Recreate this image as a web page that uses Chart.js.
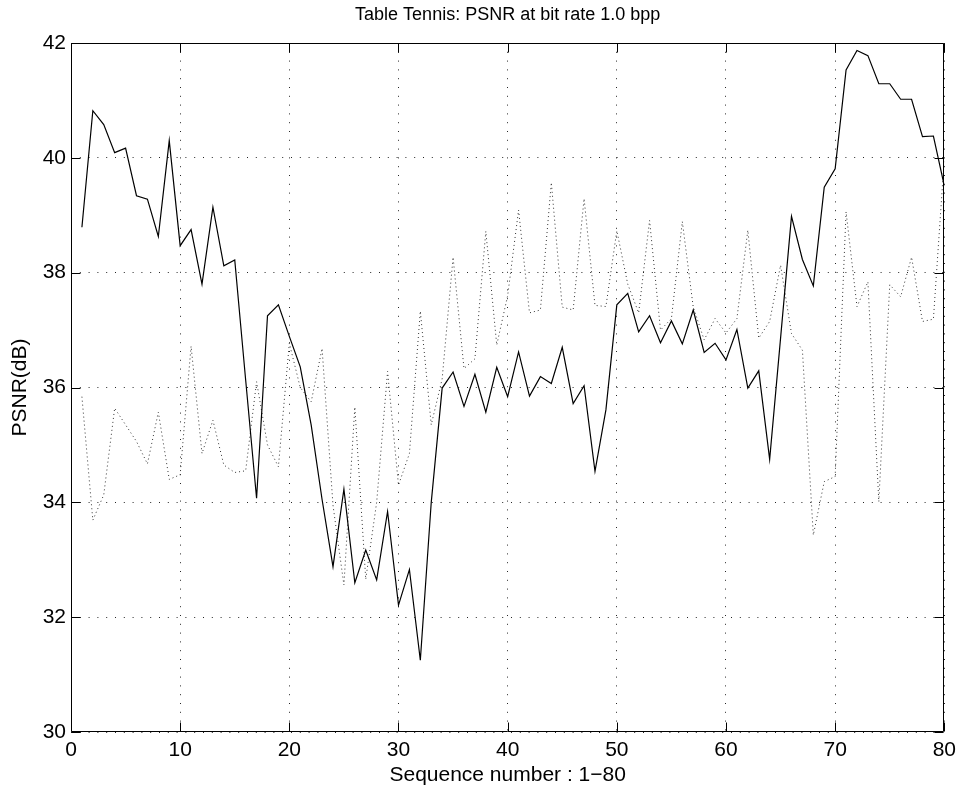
<!DOCTYPE html>
<html>
<head>
<meta charset="utf-8">
<script src="https://cdn.jsdelivr.net/npm/chart.js@4/dist/chart.umd.min.js"></script>
<style>
  html, body { margin: 0; padding: 0; background: #ffffff; }
  #wrap { width: 962px; height: 797px; }
</style>
</head>
<body>
<div id="wrap"><canvas id="c" width="962" height="797" style="width:962px;height:797px"></canvas></div>
<script>
// ---- data ----
const titleText = "Table Tennis: PSNR at bit rate 1.0 bpp";
const xLabel = "Sequence number : 1\u221280";
const yLabel = "PSNR(dB)";

const sequence = Array.from({length: 80}, (_, i) => i + 1); // frames 1..80

const solidPSNR = [
  38.79, 40.82, 40.58, 40.09, 40.17, 39.34, 39.28, 38.63, 40.30, 38.47,
  38.75, 37.80, 39.14, 38.12, 38.22, 36.13, 34.07, 37.25, 37.44, 36.89,
  36.36, 35.35, 34.05, 32.88, 34.23, 32.60, 33.17, 32.65, 33.84, 32.21,
  32.83, 31.25, 34.00, 35.99, 36.27, 35.67, 36.23, 35.57, 36.35, 35.84,
  36.62, 35.85, 36.19, 36.07, 36.70, 35.72, 36.03, 34.54, 35.61, 37.44,
  37.64, 36.97, 37.25, 36.78, 37.16, 36.76, 37.35, 36.61, 36.77, 36.48,
  37.01, 35.99, 36.29, 34.75, 36.86, 38.98, 38.23, 37.77, 39.49, 39.81,
  41.53, 41.87, 41.78, 41.29, 41.29, 41.02, 41.02, 40.37, 40.38, 39.51
];

const dottedPSNR = [
  35.84, 33.69, 34.13, 35.64, 35.35, 35.06, 34.67, 35.57, 34.40, 34.48,
  36.72, 34.85, 35.43, 34.65, 34.52, 34.55, 36.10, 35.00, 34.62, 36.77,
  36.00, 35.75, 36.68, 33.95, 32.56, 35.66, 32.66, 34.00, 36.28, 34.30,
  34.85, 37.33, 35.35, 36.15, 38.27, 36.33, 36.50, 38.72, 36.74, 37.60,
  39.09, 37.30, 37.35, 39.57, 37.40, 37.35, 39.29, 37.43, 37.41, 38.73,
  37.80, 37.30, 38.91, 37.00, 37.20, 38.89, 37.40, 36.83, 37.20, 36.95,
  37.20, 38.74, 36.86, 37.15, 38.13, 36.94, 36.65, 33.43, 34.36, 34.45,
  39.06, 37.41, 37.84, 34.01, 37.79, 37.58, 38.27, 37.15, 37.19, 40.00
];

const xTicks = [0, 10, 20, 30, 40, 50, 60, 70, 80];
const yTicks = [30, 32, 34, 36, 38, 40, 42];

// ---- chart ----
const FONT = "'Liberation Sans', Arial, Helvetica, sans-serif";

const boxPlugin = {
  id: 'matlabBox',
  afterDatasetsDraw(chart) {
    const {ctx, chartArea: a, scales} = chart;
    const tl = 9;
    ctx.save();
    ctx.strokeStyle = '#000';
    ctx.lineWidth = 1;
    ctx.beginPath();
    const L = Math.round(a.left) + 0.5, R = Math.round(a.right) - 0.5;
    const T = Math.round(a.top) + 0.5, B = Math.round(a.bottom) - 0.5;
    ctx.rect(L, T, R - L, B - T);
    xTicks.forEach(v => {
      const px = Math.round(scales.x.getPixelForValue(v)) + 0.5;
      ctx.moveTo(px, B); ctx.lineTo(px, B - tl);
      ctx.moveTo(px, T); ctx.lineTo(px, T + tl);
    });
    yTicks.forEach(v => {
      const py = Math.round(scales.y.getPixelForValue(v)) + 0.5;
      ctx.moveTo(L, py); ctx.lineTo(L + tl, py);
      ctx.moveTo(R, py); ctx.lineTo(R - tl, py);
    });
    ctx.stroke();
    ctx.restore();
  }
};

new Chart(document.getElementById('c'), {
  type: 'line',
  data: {
    datasets: [
      {
        label: 'solid',
        data: sequence.map((s, i) => ({x: s, y: solidPSNR[i]})),
        borderColor: '#000000',
        borderWidth: 1.2,
        pointRadius: 0,
        tension: 0,
        fill: false
      },
      {
        label: 'dotted',
        data: sequence.map((s, i) => ({x: s, y: dottedPSNR[i]})),
        borderColor: '#333333',
        borderWidth: 1,
        borderDash: [1, 3],
        pointRadius: 0,
        tension: 0,
        fill: false
      }
    ]
  },
  plugins: [boxPlugin],
  options: {
    responsive: false,
    animation: false,
    devicePixelRatio: 1,
    layout: { padding: { left: 0, right: 17, top: 0, bottom: 0 } },
    plugins: {
      legend: { display: false },
      tooltip: { enabled: false },
      title: {
        display: true,
        fullSize: false,
        text: titleText,
        color: '#000',
        font: { family: FONT, size: 18, weight: 'normal' },
        padding: { top: 4, bottom: 17.4 }
      }
    },
    scales: {
      x: {
        type: 'linear',
        min: 0, max: 80,
        afterBuildTicks(scale) { scale.ticks = xTicks.map(v => ({value: v})); },
        afterFit(scale) { scale.height = 65; },
        ticks: { color: '#000', font: { family: FONT, size: 21 }, padding: 6, maxRotation: 0, autoSkip: false },
        grid: { color: 'rgba(0,0,0,0.85)', lineWidth: 1, drawTicks: false },
        border: { display: false, dash: [1, 7.8] },
        title: { display: true, text: xLabel, color: '#000', font: { family: FONT, size: 21 }, padding: { top: 0, bottom: 9 } }
      },
      y: {
        type: 'linear',
        min: 30, max: 42,
        afterBuildTicks(scale) { scale.ticks = yTicks.map(v => ({value: v})); },
        afterFit(scale) { scale.width = 71; },
        ticks: { color: '#000', font: { family: FONT, size: 21 }, padding: 5 },
        grid: { color: 'rgba(0,0,0,0.85)', lineWidth: 1, drawTicks: false },
        border: { display: false, dash: [1, 7.8] },
        title: { display: true, text: yLabel, color: '#000', font: { family: FONT, size: 21 }, padding: { top: 8, bottom: 0 } }
      }
    }
  }
});
</script>
</body>
</html>
